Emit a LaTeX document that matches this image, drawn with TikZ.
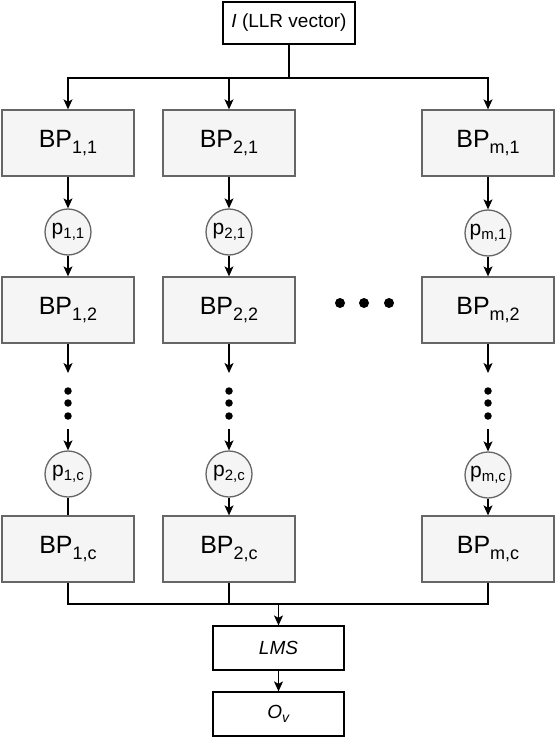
\documentclass[tikz,border=0pt]{standalone}
\usepackage{fontspec}
\setmainfont{Liberation Sans}
\usetikzlibrary{arrows.meta}

\newcommand{\bpidx}[1]{\raisebox{-5.5pt}{\fontsize{18}{18}\selectfont #1}}
\newcommand{\pidx}[1]{\raisebox{-4pt}{\fontsize{15}{15}\selectfont #1}}

\begin{document}
\begin{tikzpicture}[x=1pt,y=-1pt,>={Stealth[length=10pt,width=9pt,inset=2.5pt]},line width=1.2pt]

  \tikzstyle{bp}=[rectangle,draw=black!60,fill=black!4,line width=1.3pt,
    minimum width=132pt,minimum height=66pt,inner sep=0pt,
    font=\fontsize{25}{30}\selectfont]
  \tikzstyle{prob}=[circle,draw=black!60,fill=black!4,line width=1.3pt,
    minimum size=46pt,inner sep=0pt,font=\fontsize{21}{24}\selectfont]
  \tikzstyle{io}=[rectangle,draw=black,fill=white,line width=1.2pt,
    minimum width=131pt,minimum height=44pt,inner sep=0pt,
    font=\fontsize{19}{22}\selectfont]
  \tikzstyle{dot}=[circle,fill=black,inner sep=0pt,minimum size=7.5pt]
  \tikzstyle{bigdot}=[circle,fill=black,inner sep=0pt,minimum size=10pt]

  \useasboundingbox (0,0) rectangle (556,738);

  %% \draw [help lines,step=50] (0,0) grid (556,738);

  \node  (in)  at (289,23)   [io,minimum width=132pt,minimum height=42pt]
         {\textit{I} (LLR vector)};

  \node  (b11) at (68,143)   [bp]   {BP\bpidx{1,1}};
  \node  (b21) at (229,143)  [bp]   {BP\bpidx{2,1}};
  \node  (bm1) at (488,143)  [bp]   {BP\bpidx{m,1}};

  \node  (p11) at (68,232)   [prob] {p\pidx{1,1}};
  \node  (p21) at (229,232)  [prob] {p\pidx{2,1}};
  \node  (pm1) at (488,233)  [prob] {p\pidx{m,1}};

  \node  (b12) at (68,310)   [bp]   {BP\bpidx{1,2}};
  \node  (b22) at (229,310)  [bp]   {BP\bpidx{2,2}};
  \node  (bm2) at (488,310)  [bp]   {BP\bpidx{m,2}};

  \node  (p1c) at (68,474)   [prob] {p\pidx{1,c}};
  \node  (p2c) at (229,474)  [prob] {p\pidx{2,c}};
  \node  (pmc) at (488,475)  [prob] {p\pidx{m,c}};

  \node  (b1c) at (68,549)   [bp]   {BP\bpidx{1,c}};
  \node  (b2c) at (229,549)  [bp]   {BP\bpidx{2,c}};
  \node  (bmc) at (488,549)  [bp]   {BP\bpidx{m,c}};

  \node  (lms) at (278.5,648) [io]  {\textit{LMS}};
  \node  (out) at (278.5,714) [io]
         {\textit{O}\raisebox{-4pt}{\fontsize{14}{14}\selectfont\textit{v}}};

  %% dots between the rows and the columns
  \foreach \x/\n in {68/1,229/2,488/m} {
    \node (v\n a) at (\x,391) [dot] {};
    \node (v\n b) at (\x,403) [dot] {};
    \node (v\n c) at (\x,416) [dot] {};
    \coordinate (top\n) at (\x,373);
    \coordinate (bot\n) at (\x,429);
  }
  \node (h1) at (340,303) [bigdot] {};
  \node (h2) at (364,303) [bigdot] {};
  \node (h3) at (389,303) [bigdot] {};

  \coordinate (split) at (289,78);
  \coordinate (join)  at (278.5,604);

  \draw (in) -- (split);
  \draw [->] (split) -| (b11);
  \draw [->] (split) -| (b21);
  \draw [->] (split) -| (bm1);

  \path (b11) edge [->] (p11)
        (p11) edge [->] (b12)
        (b12) edge [->] (top1)
        (bot1) edge [->] (p1c)
        (p1c) edge      (b1c)

        (b21) edge [->] (p21)
        (p21) edge [->] (b22)
        (b22) edge [->] (top2)
        (bot2) edge [->] (p2c)
        (p2c) edge [->] (b2c)

        (bm1) edge [->] (pm1)
        (pm1) edge [->] (bm2)
        (bm2) edge [->] (topm)
        (botm) edge [->] (pmc)
        (pmc) edge [->] (bmc);

  \draw (b1c) |- (join);
  \draw (b2c) |- (join);
  \draw (bmc) |- (join);
  \draw [->] (join) -- (lms);
  \draw [->] (lms) -- (out);
\end{tikzpicture}
\end{document}
